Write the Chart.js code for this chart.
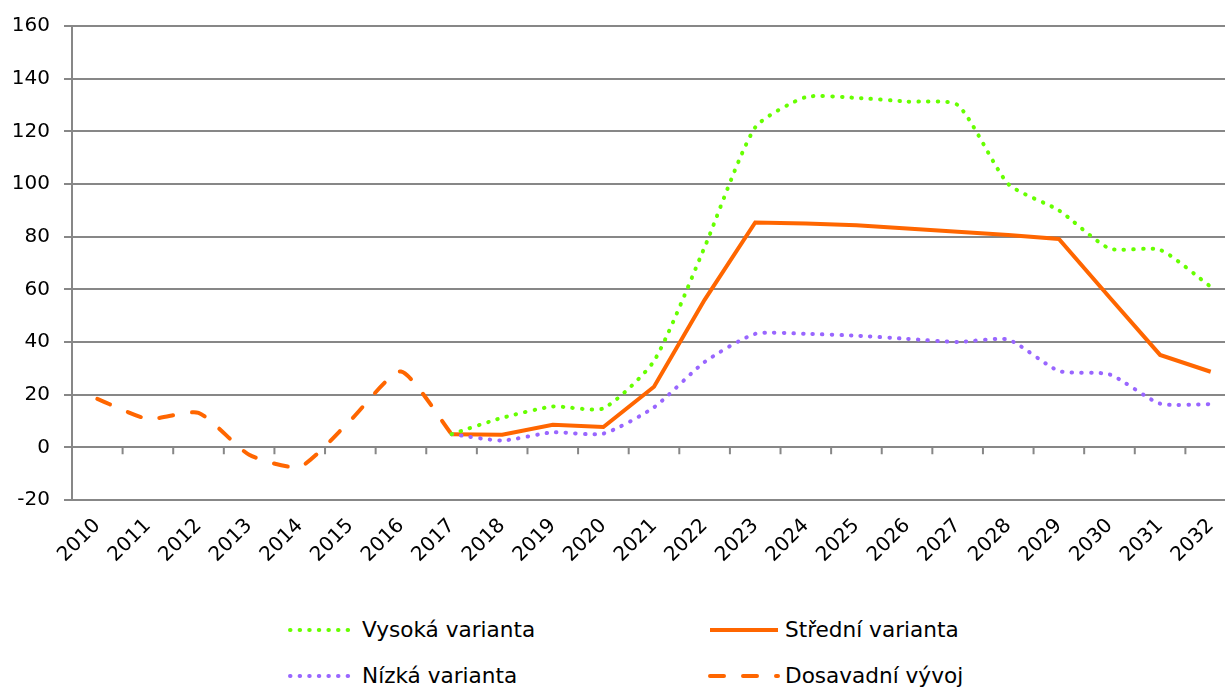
<!DOCTYPE html>
<html>
<head>
<meta charset="utf-8">
<script src="https://cdn.jsdelivr.net/npm/chart.js@4.4.1/dist/chart.umd.min.js"></script>
<style>
  html, body { margin: 0; padding: 0; background: #fff; overflow: hidden; }
  body { width: 1225px; height: 688px; position: relative; font-family: "DejaVu Sans", Verdana, sans-serif; }
  #wrap { position: absolute; left: 0; top: 0; width: 1250px; height: 600px; }
  .leg { position: absolute; font-size: 21.6px; color: #000; line-height: 24px; white-space: nowrap; }
  .leg svg { position: absolute; }
</style>
</head>
<body>
<div id="wrap"><canvas id="myChart" width="1250" height="600"></canvas></div>

<div class="leg" style="left:287px; top:618px;">
  <svg width="70" height="24" style="left:0; top:0;"><line x1="3" y1="12" x2="66" y2="12" stroke="#66ff00" stroke-width="4" stroke-linecap="round" stroke-dasharray="0.5 9.1"/></svg>
  <span style="position:absolute; left:75px; top:0;">Vysoká varianta</span>
</div>
<div class="leg" style="left:710px; top:618px;">
  <svg width="70" height="24" style="left:0; top:0;"><line x1="0" y1="12" x2="68" y2="12" stroke="#ff6600" stroke-width="4"/></svg>
  <span style="position:absolute; left:75px; top:0;">Střední varianta</span>
</div>
<div class="leg" style="left:287px; top:664px;">
  <svg width="70" height="24" style="left:0; top:0;"><line x1="3" y1="12" x2="66" y2="12" stroke="#9966ff" stroke-width="4" stroke-linecap="round" stroke-dasharray="0.5 9.1"/></svg>
  <span style="position:absolute; left:75px; top:0;">Nízká varianta</span>
</div>
<div class="leg" style="left:706px; top:664px;">
  <svg width="74" height="24" style="left:0; top:0;"><line x1="4" y1="12" x2="72" y2="12" stroke="#ff6600" stroke-width="4" stroke-linecap="round" stroke-dasharray="14 19"/></svg>
  <span style="position:absolute; left:79px; top:0;">Dosavadní vývoj</span>
</div>

<script>
const years = ["2010", "2011", "2012", "2013", "2014", "2015", "2016", "2017", "2018", "2019", "2020", "2021",
  "2022", "2023", "2024", "2025", "2026", "2027", "2028", "2029", "2030", "2031", "2032"];

const vysoka = [null, null, null, null, null, null, null, 5, 11.2, 15.5, 14.8, 32.8,
  76, 121.5, 133, 132.7, 131.3, 130, 100, 90, 75.5, 75, 61];
const stredni = [null, null, null, null, null, null, null, 5, 4.8, 8.6, 7.7, 23,
  56, 85.4, 85, 84.3, 83.1, 81.9, 80.6, 79.1, 57, 35.1, 28.7];
const nizka = [null, null, null, null, null, null, null, 5, 2.6, 5.7, 5.2, 15.2,
  32.4, 43.1, 43.1, 42.4, 41.2, 40, 40.9, 29, 27.7, 16.6, 16.4];
const dosavadni = [18.4, 10.8, 13.1, -2.8, -7.4, 10.2, 28.8, 5, null, null, null, null,
  null, null, null, null, null, null, null, null, null, null, null];

const yMin = -20;
const yMax = 160;
const yStep = 20;

const gridColor = "#878787";

// short tick marks on the zero line, between categories (Excel style)
const zeroAxis = {
  id: "zeroAxis",
  beforeDatasetsDraw(chart) {
    const x = chart.scales.x;
    const y = chart.scales.y;
    const ctx = chart.ctx;
    const y0 = y.getPixelForValue(0);
    const half = (x.getPixelForValue(1) - x.getPixelForValue(0)) / 2;
    ctx.save();
    ctx.strokeStyle = gridColor;
    ctx.lineWidth = 2;
    ctx.beginPath();
    for (let i = 0; i < years.length; i++) {
      const px = x.getPixelForValue(i) + half;
      ctx.moveTo(px, y0);
      ctx.lineTo(px, y0 + 7);
    }
    ctx.stroke();
    ctx.restore();
  }
};

const dotted = { borderWidth: 4, borderDash: [0.5, 9.1], borderCapStyle: "round", tension: 0.2, pointRadius: 0, fill: false };

const ctx = document.getElementById("myChart").getContext("2d");
new Chart(ctx, {
  type: "line",
  data: {
    labels: years,
    datasets: [
      Object.assign({ label: "Vysoká varianta", data: vysoka, borderColor: "#66ff00" }, dotted),
      Object.assign({ label: "Nízká varianta", data: nizka, borderColor: "#9966ff" }, dotted),
      {
        label: "Střední varianta",
        data: stredni,
        borderColor: "#ff6600",
        borderWidth: 4,
        tension: 0,
        pointRadius: 0,
        fill: false
      },
      {
        label: "Dosavadní vývoj",
        data: dosavadni,
        borderColor: "#ff6600",
        borderWidth: 4,
        borderDash: [14, 19],
        borderCapStyle: "round",
        tension: 0.2,
        pointRadius: 0,
        fill: false
      }
    ]
  },
  options: {
    responsive: false,
    animation: false,
    layout: { padding: { left: 0, top: 23, right: 14, bottom: 0 } },
    plugins: {
      legend: { display: false },
      tooltip: { enabled: false }
    },
    scales: {
      x: {
        offset: true,
        grid: { display: false, drawTicks: false },
        border: { display: false },
        ticks: {
          color: "#000",
          font: { family: "DejaVu Sans", size: 20 },
          maxRotation: 45,
          minRotation: 45,
          autoSkip: false,
          padding: 14
        },
        afterFit(scale) { scale.height = 100; }
      },
      y: {
        min: yMin,
        max: yMax,
        ticks: {
          stepSize: yStep,
          color: "#000",
          font: { family: "DejaVu Sans", size: 20 },
          padding: 14
        },
        grid: { color: gridColor, lineWidth: 2, tickLength: 8, tickColor: gridColor },
        border: { display: true, color: gridColor, width: 2 },
        afterFit(scale) { scale.width = 72; }
      }
    }
  },
  plugins: [zeroAxis]
});
</script>
</body>
</html>
